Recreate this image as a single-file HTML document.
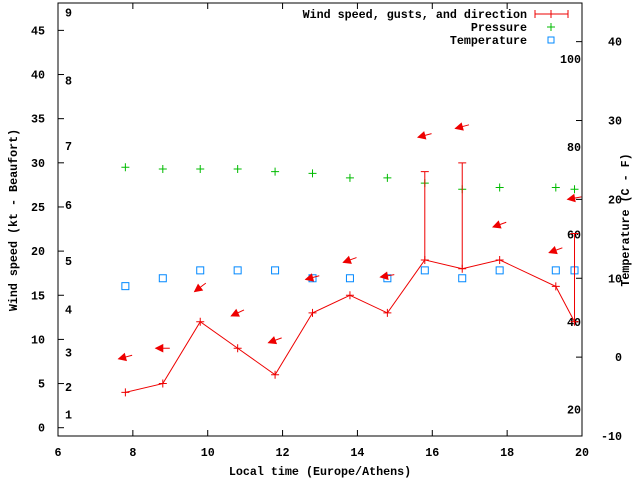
<!DOCTYPE html>
<html><head><meta charset="utf-8"><style>
html,body{margin:0;padding:0;background:#fff}
svg text{font-family:"Liberation Mono","DejaVu Sans Mono",monospace;font-weight:bold;font-size:11.7px;fill:#000}
</style></head><body>
<svg id="chart" width="640" height="480" xmlns="http://www.w3.org/2000/svg">
<g id="axes"></g>
<g id="marks"></g>
<g id="legend">
  <text x="527" y="18" text-anchor="end">Wind speed, gusts, and direction</text>
  <line x1="535" y1="14" x2="568" y2="14" stroke="#e00"/>
  <line x1="535" y1="10" x2="535" y2="18" stroke="#e00"/>
  <line x1="568" y1="10" x2="568" y2="18" stroke="#e00"/>
  <line x1="551" y1="10" x2="551" y2="18" stroke="#e00"/>
  <text x="527" y="31" text-anchor="end">Pressure</text>
  <path d="M547 27h8M551 23v8" stroke="#0b0"/>
  <text x="527" y="44" text-anchor="end">Temperature</text>
  <rect x="548" y="37" width="6" height="6" fill="none" stroke="#08f"/>
</g>
<text x="320" y="475" text-anchor="middle">Local time (Europe/Athens)</text>
<text transform="translate(17,220) rotate(-90)" text-anchor="middle">Wind speed (kt - Beaufort)</text>
<text transform="translate(629,220) rotate(-90)" text-anchor="middle">Temperature (C - F)</text>
</svg>
<script>
const times=[7.8,8.8,9.8,10.8,11.8,12.8,13.8,14.8,15.8,16.8,17.8,19.3,19.8];
const wind=[4,5,12,9,6,13,15,13,19,18,19,16,12];
const gusts=[null,null,null,null,null,null,null,null,29,30,null,null,22];
const pressure=[29.5,29.3,29.3,29.3,29.0,28.8,28.3,28.3,27.7,27.0,27.2,27.2,27.0];
const temperature=[9,10,11,11,11,10,10,10,11,10,11,11,11];
const arrowLevel=[8.0,9.0,15.9,13.0,9.9,17.0,19.0,17.2,33.1,34.1,23.0,20.1,26.0];
const arrowAngle=[195,180,217,205,200,195,200,190,195,195,200,200,190];
const xTicks=[6,8,10,12,14,16,18,20];
const yTicks=[0,5,10,15,20,25,30,35,40,45];
const y2Ticks=[-10,0,10,20,30,40];
const beaufortLabels=["1","2","3","4","5","6","7","8","9"];
const beaufortLevels=[1.5,4.6,8.5,13.4,18.9,25.2,31.9,39.3,47.0];
const fahrenheitLabels=["20","40","60","80","100"];
const fahrenheitValues=[20,40,60,80,100];

const L=58,R=582,T=3,B=436;
const xMin=6,xMax=20,yMin=-0.94,yMax=48.1,tMin=-10,tMax=44.9;
const X=v=>L+(v-xMin)/(xMax-xMin)*(R-L);
const Y=v=>B-(v-yMin)/(yMax-yMin)*(B-T);
const Y2=v=>B-(v-tMin)/(tMax-tMin)*(B-T);
const NS="http://www.w3.org/2000/svg";
function mk(tag,attrs,parent,txt){const e=document.createElementNS(NS,tag);for(const k in attrs)e.setAttribute(k,attrs[k]);if(txt!=null)e.textContent=txt;parent.appendChild(e);return e;}
const ax=document.getElementById('axes'),mg=document.getElementById('marks');
let e=mk('rect',{x:L,y:T,width:R-L,height:B-T,fill:'none',stroke:'#000'},ax);


xTicks.forEach(t=>{
 e=mk('path',{d:`M${X(t)} ${B}v-6M${X(t)} ${T}v6`,stroke:'#000'},ax);
 
 
 e=mk('text',{x:X(t),y:B+20,'text-anchor':'middle'},ax,String(t));
 
 
});
yTicks.forEach(t=>{
 e=mk('path',{d:`M${L} ${Y(t)}h6`,stroke:'#000'},ax);
 
 
 e=mk('text',{x:L-13,y:Y(t)+4,'text-anchor':'end'},ax,String(t));
 
 
});
y2Ticks.forEach(t=>{
 e=mk('path',{d:`M${R} ${Y2(t)}h-6`,stroke:'#000'},ax);
 
 
 e=mk('text',{x:R+40,y:Y2(t)+4,'text-anchor':'end'},ax,String(t));
 
 
});
beaufortLabels.forEach((s,i)=>{
 e=mk('text',{x:65,y:Y(beaufortLevels[i])+4},ax,s);
 
 
});
fahrenheitLabels.forEach((s,i)=>{
 e=mk('text',{x:R-1,y:Y2((fahrenheitValues[i]-32)*5/9)+4,'text-anchor':'end'},ax,s);
 
 
});
// pressure
pressure.forEach((p,i)=>{
 const x=X(times[i]),y=Y(p);
 e=mk('path',{d:`M${x-4} ${y}h8M${x} ${y-4}v8`,stroke:'#0b0'},mg);
 
 
});
// temperature
temperature.forEach((t,i)=>{
 const x=X(times[i]),y=Y2(t);
 e=mk('rect',{x:x-3.5,y:y-3.5,width:7,height:7,fill:'none',stroke:'#08f'},mg);
 
 
});
// wind line
let d=wind.map((w,i)=>(i?'L':'M')+X(times[i])+' '+Y(w)).join('');
e=mk('path',{d:d,fill:'none',stroke:'#e00'},mg);


wind.forEach((w,i)=>{
 const x=X(times[i]),y=Y(w);
 e=mk('path',{d:`M${x-4} ${y}h8M${x} ${y-4}v8`,stroke:'#e00'},mg);
 
 
 if(gusts[i]!=null){
  const g=Y(gusts[i]);
  e=mk('path',{d:`M${x} ${y}V${g}M${x-4} ${g}h8`,stroke:'#e00'},mg);
  
  
 }
});
// direction arrows
arrowLevel.forEach((a,i)=>{
 const cx=X(times[i]),cy=Y(a),r=arrowAngle[i]*Math.PI/180,len=14;
 const dx=Math.cos(r),dy=-Math.sin(r);
 const hx=cx+dx*len/2,hy=cy+dy*len/2,tx=cx-dx*len/2,ty=cy-dy*len/2;
 const bx=hx-dx*7,by=hy-dy*7,px=-dy*3.5,py=dx*3.5;
 e=mk('g',{},mg);
 
 
 mk('line',{x1:tx,y1:ty,x2:hx,y2:hy,stroke:'#e00'},e);
 mk('polygon',{points:`${hx},${hy} ${bx+px},${by+py} ${bx-px},${by-py}`,fill:'#e00',stroke:'#e00'},e);
});
</script>
</body></html>
